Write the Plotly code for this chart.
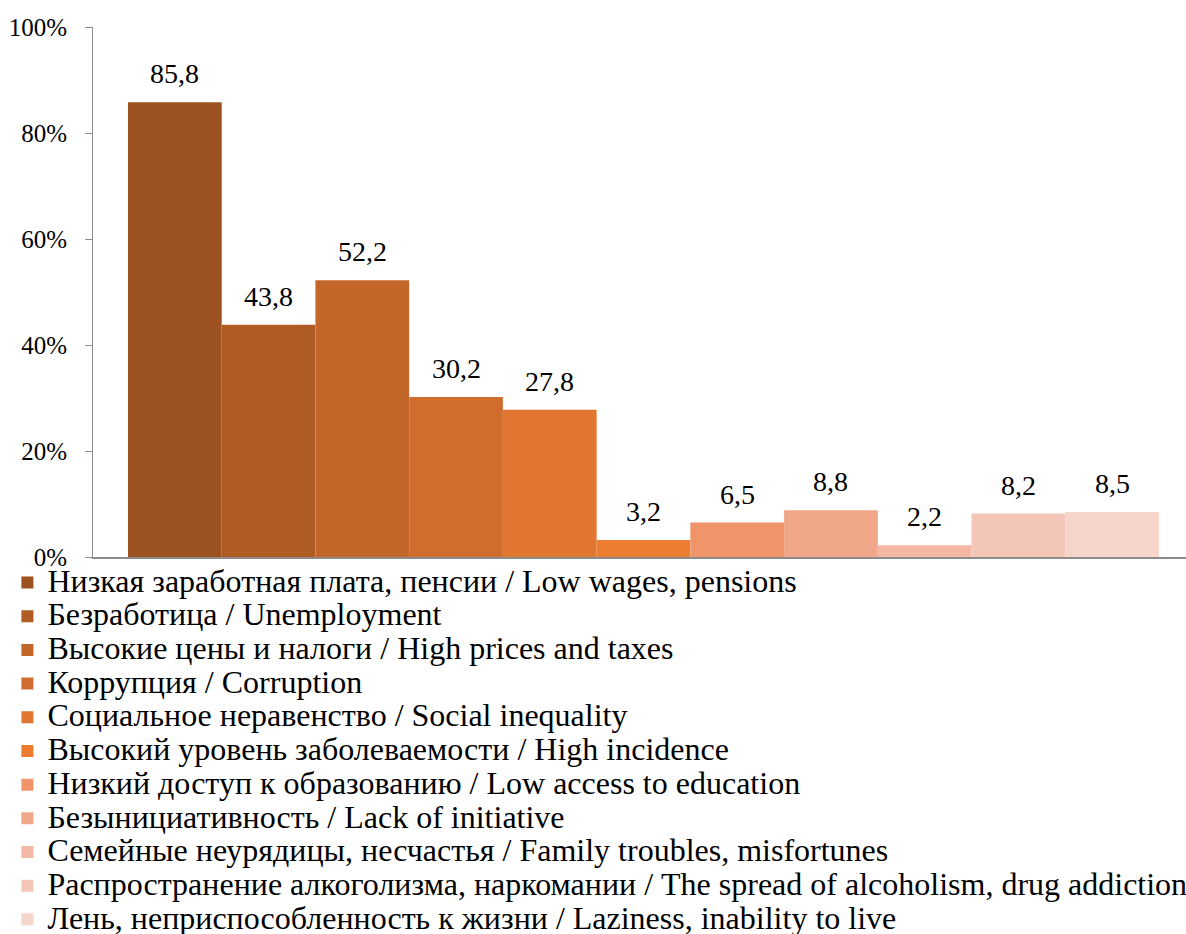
import plotly.graph_objects as go

categories = [
    "Низкая заработная плата, пенсии / Low wages, pensions",
    "Безработица / Unemployment",
    "Высокие цены и налоги / High prices and taxes",
    "Коррупция / Corruption",
    "Социальное неравенство / Social inequality",
    "Высокий уровень заболеваемости / High incidence",
    "Низкий доступ к образованию / Low access to education",
    "Безынициативность / Lack of initiative",
    "Семейные неурядицы, несчастья / Family troubles, misfortunes",
    "Распространение алкоголизма, наркомании / The spread of alcoholism, drug addiction",
    "Лень, неприспособленность к жизни / Laziness, inability to live",
]
values = [85.8, 43.8, 52.2, 30.2, 27.8, 3.2, 6.5, 8.8, 2.2, 8.2, 8.5]
colors = ["#9C5221", "#AE5B24", "#C3662A", "#D06C2D", "#E07630", "#ED7D31",
          "#F0946A", "#F1A88A", "#F3B7A4", "#F4C6B8", "#F6D5CB"]
y_ticks = [0, 20, 40, 60, 80, 100]
y_tick_labels = ["0%", "20%", "40%", "60%", "80%", "100%"]

FONT = "Liberation Serif"

fig = go.Figure()
for i, (name, v, c) in enumerate(zip(categories, values, colors)):
    fig.add_trace(go.Bar(
        x=[i], y=[v], width=1,
        name=f"<span style='font-size:32px'>{name}</span>",
        marker=dict(color=c, line=dict(width=0)),
        hoverinfo="y",
    ))
    fig.add_annotation(
        x=i, y=v, text=f"{v:.1f}".replace(".", ","),
        showarrow=False, yanchor="bottom", yshift=11,
        font=dict(family=FONT, size=28, color="#000000"),
    )

fig.update_layout(
    width=1186, height=934,
    margin=dict(l=93, r=0, t=27, b=377, autoexpand=False),
    paper_bgcolor="white", plot_bgcolor="white",
    barmode="overlay",
    font=dict(family=FONT, size=24, color="#000000"),
    showlegend=True,
    legend=dict(
        x=-0.0783, y=-0.007, xanchor="left", yanchor="top",
        font=dict(family=FONT, size=23.6, color="#000000"),
        tracegroupgap=0,
        bgcolor="rgba(0,0,0,0)",
    ),
    xaxis=dict(
        range=[-0.873, 10.788], showticklabels=False, ticks="",
        showgrid=False, zeroline=False, showline=True,
        linecolor="#8C8C8C", linewidth=2,
    ),
    yaxis=dict(
        range=[0, 100], tickmode="array", tickvals=y_ticks, ticktext=y_tick_labels,
        showgrid=False, zeroline=False, showline=True,
        linecolor="#8C8C8C", linewidth=1, ticks="outside",
        ticklen=7, tickcolor="#8C8C8C", ticklabelstandoff=13,
        tickfont=dict(family=FONT, size=25, color="#000000"),
    ),
)

fig.write_html("out.html", config={"displayModeBar": False},
               post_script="document.body.style.margin='0';")
